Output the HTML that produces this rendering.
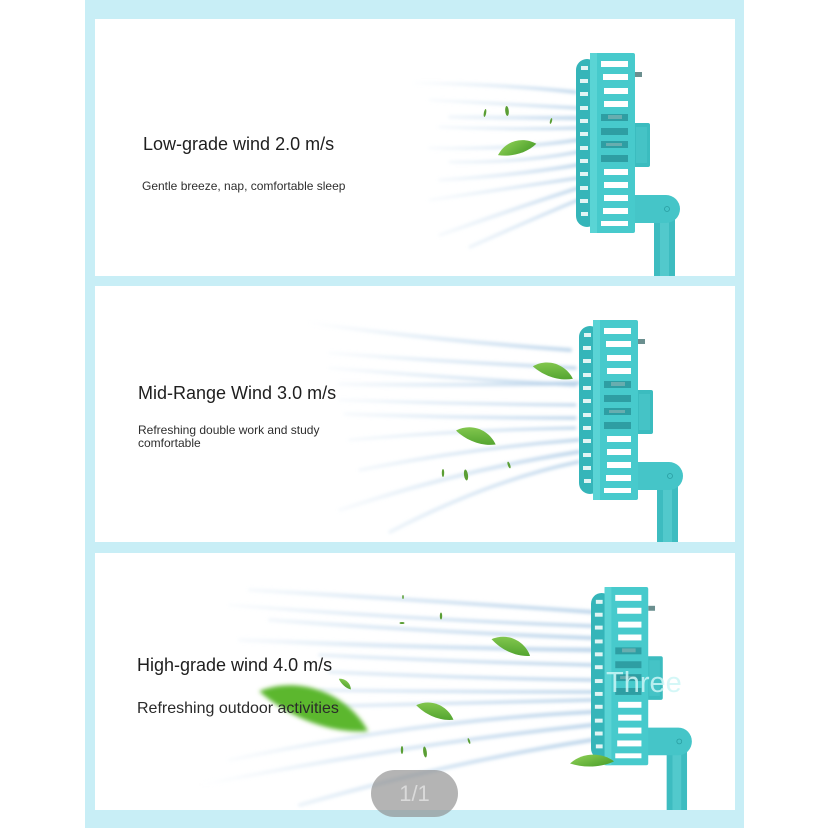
<!DOCTYPE html>
<html>
<head>
<meta charset="utf-8">
<style>
  html,body{margin:0;padding:0;background:#fff;}
  #page{position:relative;width:828px;height:828px;overflow:hidden;background:#fff;font-family:"Liberation Sans",Arial,sans-serif;}
  .frame{position:absolute;left:85px;top:0;width:659px;height:828px;background:#c8eef6;}
  .panel{position:absolute;left:95px;width:640px;background:#fff;}
  svg{position:absolute;left:0;top:0;}
  .t{position:absolute;white-space:nowrap;color:#1e1e1e;}
  .title{font-size:18px;line-height:18px;}
  .sub{font-size:12px;line-height:13px;color:#2e2e2e;}
  .sub3{font-size:16px;line-height:16px;color:#2a2a2a;}
  .three{position:absolute;left:606px;top:669px;font-size:29px;line-height:29px;color:rgba(205,246,246,0.85);white-space:nowrap;}
  .pill{position:absolute;left:371px;top:770px;width:87px;height:47px;border-radius:24px;background:rgba(140,140,140,0.65);color:#dadada;font-size:22px;line-height:47px;text-align:center;}
</style>
</head>
<body>
<div id="page">
  <div class="frame"></div>
  <div class="panel" style="top:19px;height:257px;"></div>
  <div class="panel" style="top:286px;height:256px;"></div>
  <div class="panel" style="top:553px;height:257px;"></div>

  <svg width="828" height="828" viewBox="0 0 828 828">
    <defs>
      <clipPath id="c1"><rect x="95" y="19" width="640" height="257"/></clipPath>
      <clipPath id="c2"><rect x="95" y="286" width="640" height="256"/></clipPath>
      <clipPath id="c3"><rect x="95" y="553" width="640" height="257"/></clipPath>
      <filter id="bl" x="-10%" y="-50%" width="120%" height="200%"><feGaussianBlur stdDeviation="1.6"/></filter>
      <filter id="bl3" x="-30%" y="-80%" width="160%" height="260%"><feGaussianBlur stdDeviation="2.2"/></filter>
      <linearGradient id="g1" gradientUnits="userSpaceOnUse" x1="405" y1="0" x2="580" y2="0">
        <stop offset="0" stop-color="#d6e6f3" stop-opacity="0"/>
        <stop offset="0.5" stop-color="#cadef0" stop-opacity="0.5"/>
        <stop offset="1" stop-color="#b3cfe8" stop-opacity="0.85"/>
      </linearGradient>
      <linearGradient id="g2" gradientUnits="userSpaceOnUse" x1="305" y1="0" x2="580" y2="0">
        <stop offset="0" stop-color="#d6e6f3" stop-opacity="0"/>
        <stop offset="0.45" stop-color="#cadef0" stop-opacity="0.55"/>
        <stop offset="1" stop-color="#b3cfe8" stop-opacity="0.85"/>
      </linearGradient>
      <linearGradient id="g3" gradientUnits="userSpaceOnUse" x1="200" y1="0" x2="592" y2="0">
        <stop offset="0" stop-color="#d6e6f3" stop-opacity="0"/>
        <stop offset="0.4" stop-color="#cadef0" stop-opacity="0.6"/>
        <stop offset="1" stop-color="#b3cfe8" stop-opacity="0.85"/>
      </linearGradient>
      <linearGradient id="lf" x1="0" y1="0" x2="1" y2="1">
        <stop offset="0" stop-color="#8fd056"/>
        <stop offset="1" stop-color="#4a9e2a"/>
      </linearGradient>
      <path id="leaf" d="M-20,0 C-8,-12 10,-10 20,1 C8,7 -8,6 -20,0 Z" fill="url(#lf)"/>

      <g id="fan">
        <rect x="78" y="160" width="21" height="66" fill="#3dbcc0"/>
        <rect x="84" y="168" width="9" height="58" fill="#68d5d7" opacity="0.5"/>
        <path d="M55,142 H90 A14,14 0 0 1 90,170 H55 Z" fill="#45c5c8"/>
        <circle cx="91" cy="156" r="2.5" fill="none" stroke="#2a9ea2" stroke-width="0.8"/>
        <rect x="56" y="70" width="18" height="44" rx="2" fill="#3bbcbf"/>
        <rect x="60" y="74" width="11" height="36" fill="#4cc8cb" opacity="0.6"/>
        <rect x="59" y="19" width="7" height="5" fill="#6b8f8f"/>
        <rect x="0" y="6" width="22" height="168" rx="11" fill="#35b5b9"/>
        <g fill="#ffffff" opacity="0.85">
          <rect x="5" y="13" width="7" height="4"/>
          <rect x="4" y="26" width="8" height="4"/>
          <rect x="4" y="39" width="8" height="4"/>
          <rect x="4" y="53" width="8" height="4"/>
          <rect x="4" y="66" width="8" height="4"/>
          <rect x="4" y="79" width="8" height="4"/>
          <rect x="4" y="93" width="8" height="4"/>
          <rect x="4" y="106" width="8" height="4"/>
          <rect x="4" y="119" width="8" height="4"/>
          <rect x="4" y="133" width="8" height="4"/>
          <rect x="4" y="146" width="8" height="4"/>
          <rect x="5" y="159" width="7" height="4"/>
        </g>
        <rect x="14" y="0" width="45" height="180" rx="2" fill="#47cacc"/>
        <rect x="14" y="0" width="7" height="180" fill="#5ad4d5"/>
        <g fill="#ffffff">
          <rect x="25" y="8" width="27" height="6"/>
          <rect x="27" y="21" width="25" height="6"/>
          <rect x="28" y="35" width="24" height="6"/>
          <rect x="28" y="48" width="24" height="6"/>
          <rect x="28" y="116" width="24" height="6"/>
          <rect x="28" y="129" width="24" height="6"/>
          <rect x="28" y="142" width="24" height="6"/>
          <rect x="27" y="155" width="25" height="6"/>
          <rect x="25" y="168" width="27" height="5"/>
        </g>
        <g fill="#2e9ea3">
          <rect x="25" y="61" width="27" height="7"/>
          <rect x="25" y="75" width="27" height="7"/>
          <rect x="25" y="88" width="27" height="7"/>
          <rect x="25" y="102" width="27" height="7"/>
        </g>
        <g fill="#8fb8b8" opacity="0.6">
          <rect x="32" y="62" width="14" height="4"/>
          <rect x="30" y="90" width="16" height="3"/>
        </g>
      </g>
    </defs>

    <!-- Panel 1 streaks -->
    <g clip-path="url(#c1)" fill="none" stroke="url(#g1)" stroke-linecap="round" filter="url(#bl)">
      <path d="M415,83 Q500,84 575,92" stroke-width="3.5"/>
      <path d="M430,100 Q510,104 578,108" stroke-width="3"/>
      <path d="M450,117 Q520,118 580,118" stroke-width="4"/>
      <path d="M440,127 Q510,130 578,128" stroke-width="3"/>
      <path d="M430,148 Q510,150 578,140" stroke-width="3.5"/>
      <path d="M450,162 Q520,163 578,152" stroke-width="3"/>
      <path d="M440,180 Q510,176 578,165" stroke-width="3.5"/>
      <path d="M430,200 Q510,188 578,178" stroke-width="3"/>
      <path d="M440,235 Q510,210 578,188" stroke-width="3.5"/>
      <path d="M470,247 Q530,220 578,200" stroke-width="3"/>
    </g>
    <!-- Panel 2 streaks -->
    <g clip-path="url(#c2)" fill="none" stroke="url(#g2)" stroke-linecap="round" filter="url(#bl)">
      <path d="M310,323 Q430,340 570,350" stroke-width="4"/>
      <path d="M330,353 Q450,362 575,368" stroke-width="3.5"/>
      <path d="M330,368 Q450,378 575,385" stroke-width="3.5"/>
      <path d="M340,384 Q460,386 578,383" stroke-width="4"/>
      <path d="M340,400 Q460,404 575,405" stroke-width="3"/>
      <path d="M345,414 Q460,418 575,418" stroke-width="3.5"/>
      <path d="M350,440 Q460,430 575,428" stroke-width="3"/>
      <path d="M360,470 Q470,448 578,440" stroke-width="3.5"/>
      <path d="M340,510 Q460,470 578,452" stroke-width="4"/>
      <path d="M390,532 Q490,480 578,462" stroke-width="3.5"/>
    </g>
    <!-- Panel 3 streaks -->
    <g clip-path="url(#c3)" fill="none" stroke="url(#g3)" stroke-linecap="round" filter="url(#bl)">
      <path d="M250,590 Q420,600 592,612" stroke-width="4"/>
      <path d="M230,605 Q420,620 592,626" stroke-width="3.5"/>
      <path d="M270,620 Q430,632 592,638" stroke-width="4"/>
      <path d="M240,640 Q420,648 592,650" stroke-width="4.5"/>
      <path d="M320,655 Q460,662 592,665" stroke-width="3.5"/>
      <path d="M330,672 Q460,678 592,680" stroke-width="3.5"/>
      <path d="M320,690 Q460,692 592,692" stroke-width="3.5"/>
      <path d="M340,706 Q470,703 592,700" stroke-width="3.5"/>
      <path d="M230,760 Q420,720 592,712" stroke-width="4"/>
      <path d="M200,785 Q400,745 592,725" stroke-width="4"/>
      <path d="M300,805 Q450,762 592,740" stroke-width="4"/>
    </g>

    <!-- Fans -->
    <g clip-path="url(#c1)"><use href="#fan" transform="translate(576,53)"/></g>
    <g clip-path="url(#c2)"><use href="#fan" transform="translate(579,320)"/></g>
    <g clip-path="url(#c3)"><use href="#fan" transform="translate(591,587) scale(0.97,0.99)"/></g>

    <!-- Leaves panel 1 -->
    <use href="#leaf" transform="translate(517,149) rotate(-18)"/>
    <g fill="#5a9e34">
      <ellipse cx="485" cy="113" rx="1.2" ry="4" transform="rotate(10 485 113)"/>
      <ellipse cx="507" cy="111" rx="1.8" ry="5" transform="rotate(-5 507 111)"/>
      <ellipse cx="551" cy="121" rx="1" ry="3" transform="rotate(15 551 121)"/>
    </g>
    <!-- Leaves panel 2 -->
    <use href="#leaf" transform="translate(553,372) rotate(16) scale(1.05)"/>
    <use href="#leaf" transform="translate(476,437) rotate(18) scale(1.05)"/>
    <g fill="#5a9e34">
      <ellipse cx="443" cy="473" rx="1.2" ry="4"/>
      <ellipse cx="466" cy="475" rx="2" ry="5.5" transform="rotate(-8 466 475)"/>
      <ellipse cx="509" cy="465" rx="1.2" ry="3.5" transform="rotate(-20 509 465)"/>
    </g>
    <!-- Leaves panel 3 -->
    <g filter="url(#bl3)">
      <path d="M-20,0 C-8,-12 10,-10 20,1 C8,7 -8,6 -20,0 Z" fill="#5cb72f" transform="translate(314,710) rotate(19) scale(2.9,2.5)"/>
    </g>
    <use href="#leaf" transform="translate(511,647) rotate(22) scale(1.05)"/>
    <use href="#leaf" transform="translate(435,712) rotate(20)"/>
    <use href="#leaf" transform="translate(345,684) rotate(40) scale(0.4)"/>
    <use href="#leaf" transform="translate(592,762) rotate(-4) scale(1.1,0.9)"/>
    <g fill="#5a9e34">
      <ellipse cx="403" cy="597" rx="0.8" ry="2"/>
      <ellipse cx="441" cy="616" rx="1.2" ry="3.5"/>
      <ellipse cx="402" cy="623" rx="2.5" ry="1"/>
      <ellipse cx="402" cy="750" rx="1.2" ry="4"/>
      <ellipse cx="425" cy="752" rx="1.8" ry="5.5" transform="rotate(-8 425 752)"/>
      <ellipse cx="469" cy="741" rx="1" ry="3" transform="rotate(-20 469 741)"/>
    </g>
  </svg>

  <div class="t title" style="left:143px;top:135px;">Low-grade wind 2.0 m/s</div>
  <div class="t sub" style="left:142px;top:180px;font-size:12px;line-height:12px;">Gentle breeze, nap, comfortable sleep</div>

  <div class="t title" style="left:138px;top:384px;">Mid-Range Wind 3.0 m/s</div>
  <div class="t sub" style="left:138px;top:424px;">Refreshing double work and study<br>comfortable</div>

  <div class="t title" style="left:137px;top:656px;">High-grade wind 4.0 m/s</div>
  <div class="t sub3" style="left:137px;top:701px;">Refreshing outdoor activities</div>

  <div class="three">Three</div>
  <div class="pill">1/1</div>
</div>
</body>
</html>
